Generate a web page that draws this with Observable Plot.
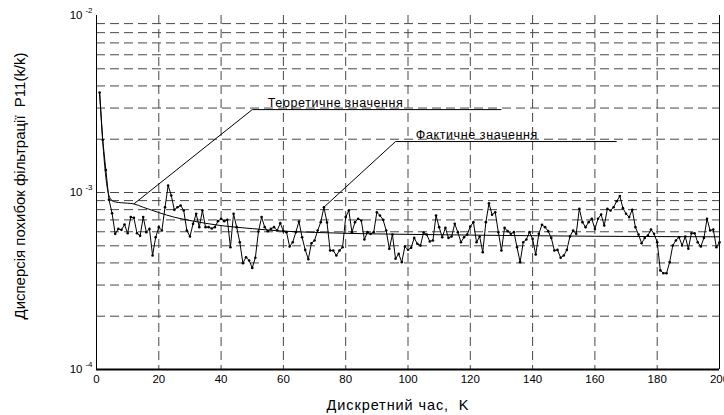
<!DOCTYPE html>
<html>
<head>
<meta charset="utf-8">
<script src="https://cdn.jsdelivr.net/npm/d3@7"></script>
<script src="https://cdn.jsdelivr.net/npm/@observablehq/plot@0.6"></script>
<style>
  html, body { margin: 0; padding: 0; background: #fff; overflow: hidden; }
  #chart svg { display: block; }
</style>
</head>
<body>
<div id="chart"></div>
<script>
// ---- data (P11 in units of 1e-4) ----
const steps = d3.range(1, 201);
const actualE4 = [
  36.7, 19.8, 13.4, 9.1, 7.64, 5.84, 6.23, 6.15, 6.59, 5.89,
  7.26, 7.19, 5.89, 5.69, 7.26, 5.97, 6.23, 4.41, 5.59, 6.37,
  6.10, 8.26, 10.95, 9.62, 7.98, 8.26, 8.45, 7.91, 6.10, 5.64,
  6.65, 7.58, 6.37, 7.91, 6.37, 6.37, 6.26, 6.37, 6.89, 7.10,
  6.89, 7.01, 4.91, 7.58, 6.37, 5.24, 3.99, 4.31, 4.13, 3.75,
  4.28, 6.02, 7.26, 6.37, 6.05, 6.23, 6.37, 6.10, 6.71, 6.05,
  5.97, 4.95, 5.24, 5.97, 6.86, 5.59, 4.74, 4.20, 5.17, 5.36,
  6.10, 6.80, 8.26, 6.77, 4.70, 4.70, 4.41, 4.70, 4.91, 7.26,
  7.91, 5.97, 6.80, 7.10, 6.95, 5.43, 5.97, 5.84, 5.97, 7.74,
  7.41, 7.01, 6.10, 4.81, 5.79, 4.22, 4.50, 4.04, 4.95, 4.75,
  4.87, 5.54, 5.13, 5.02, 5.94, 5.79, 5.29, 5.36, 7.41, 6.37,
  5.59, 6.31, 5.54, 5.64, 6.65, 5.97, 5.24, 5.59, 5.79, 6.43,
  6.80, 5.24, 5.64, 4.60, 6.80, 8.70, 7.48, 7.74, 5.97, 4.70,
  6.31, 6.05, 5.84, 5.97, 4.91, 4.04, 5.24, 5.43, 5.97, 5.47,
  4.46, 5.84, 6.57, 6.37, 6.05, 5.54, 4.70, 4.74, 4.28, 4.41,
  4.74, 5.65, 6.10, 5.84, 8.09, 6.80, 6.37, 6.80, 7.10, 6.23,
  7.10, 7.51, 6.51, 8.09, 7.91, 8.26, 8.93, 9.54, 8.16, 7.58,
  7.26, 7.98, 6.37, 5.79, 5.17, 5.54, 5.72, 6.18, 5.84, 5.24,
  3.63, 3.50, 3.50, 4.04, 5.02, 5.36, 5.59, 5.02, 5.64, 4.81,
  5.89, 5.89, 5.24, 4.95, 5.54, 7.10, 6.10, 6.18, 4.91, 5.24
];
const theoryX  = [1, 2, 3, 4, 5, 6, 8, 10, 12, 15, 20, 25, 30, 35, 40, 50, 60, 70, 80, 100, 130, 160, 200];
const theoryE4 = [36.7, 19.5, 12.2, 9.6, 9.0, 8.85, 8.75, 8.7, 8.62, 8.25, 7.7, 7.25, 6.95, 6.7, 6.5, 6.25, 6.05, 5.95, 5.88, 5.8, 5.72, 5.66, 5.62];

const xTicks = [0, 20, 40, 60, 80, 100, 120, 140, 160, 180, 200];
const xGrid  = [20, 40, 60, 80, 100, 120, 140, 160, 180];
const yTicks = [1e-4, 1e-3, 1e-2];
const yTickExp = ["-4", "-3", "-2"];
const yGrid  = [2e-4, 3e-4, 4e-4, 5e-4, 6e-4, 7e-4, 8e-4, 9e-4, 1e-3,
                2e-3, 3e-3, 4e-3, 5e-3, 6e-3, 7e-3, 8e-3, 9e-3];

const annoLabels  = ["Теоретичне значення", "Фактичне значення"];
const annoTargetX = [12, 73];
const annoTargetY = [8.62e-4, 8.26e-4];
const annoElbowX  = [50, 96];
const annoElbowY  = [2.94e-3, 1.94e-3];
const annoEndX    = [130, 167];
const annoTextX   = [55, 102.5];

const xLabel = "Дискретний час,  K";
const yLabel = "Дисперсія похибок фільтрації  P11(k/k)";

// ---- tables ----
const actual = steps.map((k, i) => ({k, v: actualE4[i] * 1e-4}));
const theory = theoryX.map((k, i) => ({k, v: theoryE4[i] * 1e-4}));
const annos = annoLabels.map((t, i) => ({
  t, tx: annoTargetX[i], ty: annoTargetY[i], ex: annoElbowX[i], ey: annoElbowY[i],
  endx: annoEndX[i], textx: annoTextX[i]
}));
const yTickTable = yTicks.map((v, i) => ({v, e: yTickExp[i]}));

const font = "'Liberation Sans', Arial, Helvetica, sans-serif";
const gridColor = "#474747";

const chart = Plot.plot({
  width: 724,
  height: 415,
  marginLeft: 96,
  marginRight: 5,
  marginTop: 15,
  marginBottom: 46,
  style: {fontFamily: font, background: "#fff", color: "#000", overflow: "hidden"},
  x: {domain: [0, 200]},
  y: {type: "log", domain: [1e-4, 1e-2]},
  marks: [
    Plot.ruleY(yGrid, {stroke: gridColor, strokeWidth: 1, strokeDasharray: "9,5"}),
    Plot.ruleX(xGrid, {stroke: gridColor, strokeWidth: 1, strokeDasharray: "9,5"}),
    Plot.axisX({ticks: xTicks, tickFormat: d => String(d), tickSize: 0, tickPadding: 5, fontSize: 11.5, label: null}),
    Plot.axisY({ticks: yTicks, tickFormat: () => "10", tickSize: 0, tickPadding: 14, fontSize: 11.5, label: null}),
    Plot.text(yTickTable, {x: 0, y: "v", text: "e", textAnchor: "end", dx: -4, dy: -5, fontSize: 8, fill: "#000"}),
    Plot.ruleX([0, 200], {stroke: "#000", strokeWidth: 1}),
    Plot.ruleY([1e-4], {stroke: "#000", strokeWidth: 2}),
    Plot.line(theory, {x: "k", y: "v", stroke: "#000", strokeWidth: 1, curve: "monotone-x"}),
    Plot.line(actual, {x: "k", y: "v", stroke: "#000", strokeWidth: 1}),
    Plot.dot(actual, {x: "k", y: "v", r: 1.3, fill: "#000", stroke: null}),
    Plot.link(annos, {x1: "tx", y1: "ty", x2: "ex", y2: "ey", stroke: "#000", strokeWidth: 1}),
    Plot.link(annos, {x1: "ex", y1: "ey", x2: "endx", y2: "ey", stroke: "#000", strokeWidth: 1}),
    Plot.text(annos, {x: "textx", y: "ey", text: "t", textAnchor: "start", dy: -7, fontSize: 12.5, fill: "#000",
      className: "anno"})
  ]
});

document.getElementById("chart").append(chart);

const svg = d3.select(chart);
svg.selectAll(".anno text").style("letter-spacing", "0.6px");

// axis titles
svg.append("text")
  .attr("transform", "translate(25,186) rotate(-90)")
  .attr("text-anchor", "middle")
  .attr("font-family", font)
  .attr("font-size", 14)
  .attr("textLength", 267)
  .attr("lengthAdjust", "spacingAndGlyphs")
  .attr("fill", "#000")
  .text(yLabel);
svg.append("text")
  .attr("x", 398)
  .attr("y", 410)
  .attr("text-anchor", "middle")
  .attr("font-family", font)
  .attr("font-size", 14.5)
  .attr("fill", "#000")
  .style("letter-spacing", "0.9px")
  .text(xLabel);
</script>
</body>
</html>
